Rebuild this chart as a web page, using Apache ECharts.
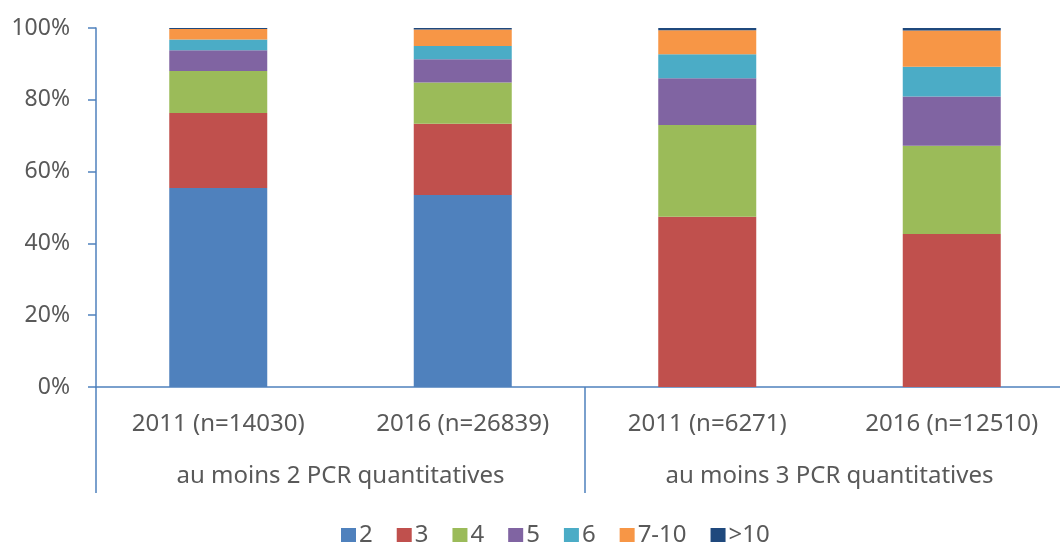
<!DOCTYPE html>
<html>
<head>
<meta charset="utf-8">
<script src="https://cdn.jsdelivr.net/npm/echarts@6/dist/echarts.min.js"></script>
<style>
  html, body { margin: 0; padding: 0; background: #fff; }
  #chart { width: 1060px; height: 542px; }
</style>
</head>
<body>
<div id="chart"></div>
<script>
// categories
var years = ['2011 (n=14030)', '2016 (n=26839)', '2011 (n=6271)', '2016 (n=12510)'];
var groups = ['au moins 2 PCR quantitatives', 'au moins 3 PCR quantitatives'];
var yTicks = [0, 20, 40, 60, 80, 100];

// shares (%) per number of PCR
var pcr2 = [55.4, 53.5, 0, 0];
var pcr3 = [20.9, 19.8, 47.4, 42.6];
var pcr4 = [11.7, 11.5, 25.6, 24.6];
var pcr5 = [5.8, 6.5, 13.0, 13.7];
var pcr6 = [3.0, 3.7, 6.7, 8.3];
var pcr7to10 = [2.9, 4.6, 6.7, 10.1];
var pcrOver10 = [0.3, 0.4, 0.6, 0.7];

var axisBlue = '#4F81BD';
var textGrey = '#595959';
var font = 'Noto Sans';

var names = ['2', '3', '4', '5', '6', '7-10', '>10'];
var values = [pcr2, pcr3, pcr4, pcr5, pcr6, pcr7to10, pcrOver10];
var colors = ['#4F81BD', '#C0504D', '#9BBB59', '#8064A2', '#4BACC6', '#F79646', '#1F497D'];

var series = [];
for (var i = 0; i < names.length; i++) {
    series.push({
        name: names[i],
        type: 'bar',
        stack: 'total',
        barWidth: 98,
        itemStyle: { color: colors[i] },
        data: values[i]
    });
}

var myChart = echarts.init(document.getElementById('chart'));
myChart.setOption({
    animation: false,
    color: colors,
    textStyle: { fontFamily: font },
    // plot area runs past the right edge, like the cropped original
    grid: { left: 96, top: 28, right: -14, bottom: 155, outerBoundsMode: 'none', containLabel: false },
    legend: {
        data: names,
        left: 336,
        top: 518,
        itemWidth: 15,
        itemHeight: 14,
        itemGap: 24,
        icon: 'rect',
        textStyle: { color: textGrey, fontSize: 24, fontFamily: font, padding: [0, 0, 0, -2] }
    },
    xAxis: [{
        type: 'category',
        data: years,
        axisLine: { lineStyle: { color: axisBlue, width: 1.5 } },
        axisTick: { show: false },
        axisLabel: { color: textGrey, fontSize: 24, margin: 25, fontFamily: font }
    }, {
        type: 'category',
        data: groups,
        position: 'bottom',
        axisLine: { show: false },
        axisTick: { show: true, length: 106, lineStyle: { color: axisBlue, width: 1.5 } },
        axisLabel: { color: textGrey, fontSize: 24, margin: 77, fontFamily: font },
        splitLine: { show: false }
    }],
    yAxis: {
        type: 'value',
        min: yTicks[0],
        max: yTicks[yTicks.length - 1],
        interval: 20,
        axisLine: { show: true, lineStyle: { color: axisBlue, width: 1.5 } },
        axisTick: { show: true, length: 8, lineStyle: { color: axisBlue, width: 1.5 } },
        splitLine: { show: false },
        axisLabel: { color: textGrey, fontSize: 23, margin: 26, formatter: '{value}%', fontFamily: font }
    },
    series: series
});
</script>
</body>
</html>
